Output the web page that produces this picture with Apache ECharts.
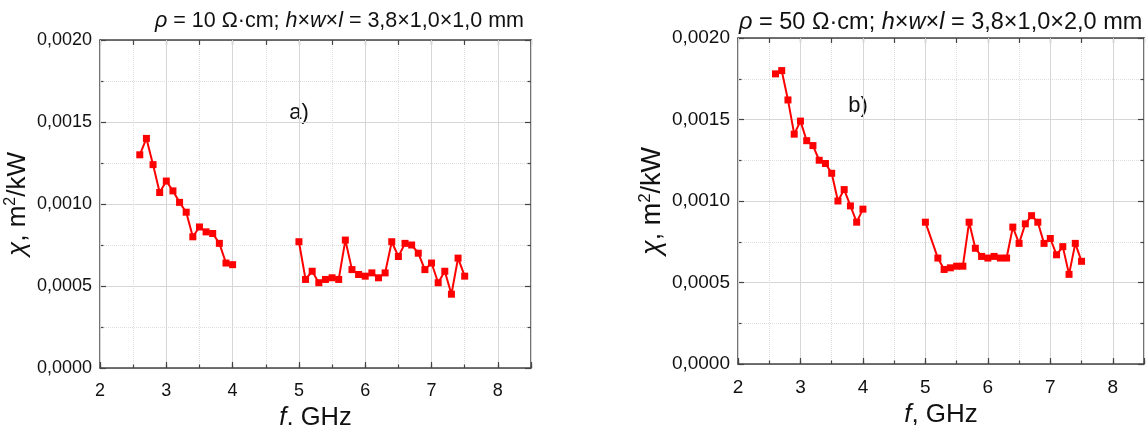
<!DOCTYPE html>
<html><head><meta charset="utf-8">
<script src="https://cdn.jsdelivr.net/npm/echarts@6/dist/echarts.min.js"></script>
<style>html,body{margin:0;padding:0;background:#fff}#c{width:1148px;height:425px}</style>
</head><body><div id="c"></div>
<script>
// ---- data (panel a) ----
const fA1 = [2.6,2.7,2.8,2.9,3.0,3.1,3.2,3.3,3.4,3.5,3.6,3.7,3.8,3.9,4.0];
const chiA1 = [0.00130,0.00140,0.00124,0.00107,0.00114,0.00108,0.00101,0.00095,0.00080,0.00086,0.00083,0.00082,0.00076,0.00064,0.00063];
const fA2 = [5.0,5.1,5.2,5.3,5.4,5.5,5.6,5.7,5.8,5.9,6.0,6.1,6.2,6.3,6.4,6.5,6.6,6.7,6.8,6.9,7.0,7.1,7.2,7.3,7.4,7.5];
const chiA2 = [0.00077,0.00054,0.00059,0.00052,0.00054,0.00055,0.00054,0.00078,0.00060,0.00057,0.00056,0.00058,0.00055,0.00058,0.00077,0.00068,0.00076,0.00075,0.00070,0.00060,0.00064,0.00052,0.00059,0.00045,0.00067,0.00056];
// ---- data (panel b) ----
const fB1 = [2.6,2.7,2.8,2.9,3.0,3.1,3.2,3.3,3.4,3.5,3.6,3.7,3.8,3.9,4.0];
const chiB1 = [0.00178,0.00180,0.00162,0.00141,0.00149,0.00137,0.00134,0.00125,0.00123,0.00117,0.00100,0.00107,0.00097,0.00087,0.00095];
const fB2 = [5.0,5.2,5.3,5.4,5.5,5.6,5.7,5.8,5.9,6.0,6.1,6.2,6.3,6.4,6.5,6.6,6.7,6.8,6.9,7.0,7.1,7.2,7.3,7.4,7.5];
const chiB2 = [0.00087,0.00065,0.00058,0.00059,0.00060,0.00060,0.00087,0.00071,0.00066,0.00065,0.00066,0.00065,0.00065,0.00084,0.00074,0.00086,0.00091,0.00087,0.00074,0.00077,0.00067,0.00072,0.00055,0.00074,0.00063];
// ---- axis ranges / labels ----
const xRange = [2, 8.5];
const yRange = [0, 0.002];
const titleA = '{i|ρ} = 10 Ω·cm; {i|h}×{i|w}×{i|l} = 3,8×1,0×1,0 mm';
const titleB = '{i|ρ} = 50 Ω·cm; {i|h}×{i|w}×{i|l} = 3,8×1,0×2,0 mm';
const xName = '{i|f}, GHz';
const yName = '{i|χ}, m{sup|2}/kW';
const panelTags = ['a)', 'b)'];

const FONT = '"Liberation Sans", Arial, sans-serif';
const AX = '#444';
const TXT = '#111';
const zip = (a, b) => a.map((v, i) => [v, b[i]]);

function xAxes(g, fs, nfs) {
  return [
    { type:'value', gridIndex:g, position:'bottom', min:xRange[0], max:xRange[1], interval:1,
      axisLine:{show:true,onZero:false,lineStyle:{color:AX,width:1.5}},
      axisTick:{show:true,inside:true,length:6,lineStyle:{color:AX,width:1.2}},
      axisLabel:{fontSize:fs,color:TXT,fontFamily:FONT,margin:14,
        formatter:v => Number.isInteger(v) ? String(v) : ''},
      splitLine:{show:true,lineStyle:{color:'#d6d6d6',width:1}},
      name:xName, nameLocation:'middle', nameGap:33,
      nameTextStyle:{fontSize:nfs,color:TXT,fontFamily:FONT,
        rich:{i:{fontStyle:'italic',fontSize:nfs,fontFamily:FONT,color:TXT}}},
      z:3 },
    { type:'value', gridIndex:g, position:'bottom', min:xRange[0], max:xRange[1], interval:0.5,
      axisLine:{show:false,onZero:false},
      axisTick:{show:true,inside:true,length:3.5,lineStyle:{color:AX,width:1.2}},
      axisLabel:{show:false},
      splitLine:{show:true,lineStyle:{color:'#dedede',width:1,type:'dotted'}} },
    { type:'value', gridIndex:g, position:'top', min:xRange[0], max:xRange[1], interval:0.5,
      axisLine:{show:true,onZero:false,lineStyle:{color:AX,width:1.5}},
      axisTick:{show:true,inside:true,length:5,lineStyle:{color:AX,width:1.2}},
      axisLabel:{show:false}, splitLine:{show:false} }
  ];
}
function yAxes(g, fs, nfs, gap) {
  return [
    { type:'value', gridIndex:g, position:'left', min:yRange[0], max:yRange[1], interval:0.0005,
      axisLine:{show:true,onZero:false,lineStyle:{color:AX,width:1.5}},
      axisTick:{show:true,inside:true,length:6,lineStyle:{color:AX,width:1.2}},
      minorTick:{show:true,splitNumber:2,length:3.5,lineStyle:{color:AX,width:1.2}},
      axisLabel:{fontSize:fs,color:TXT,fontFamily:FONT,margin:8,
        formatter:v => v.toFixed(4).replace('.', ',')},
      splitLine:{show:true,lineStyle:{color:'#d6d6d6',width:1}},
      minorSplitLine:{show:true,lineStyle:{color:'#dedede',width:1,type:'dotted'}},
      name:yName, nameLocation:'middle', nameRotate:90, nameGap:gap,
      nameTextStyle:{fontSize:nfs,color:TXT,fontFamily:FONT,lineHeight:nfs+4,
        rich:{i:{fontStyle:'italic',fontSize:nfs,fontFamily:FONT,color:TXT,lineHeight:nfs+4},
              sup:{fontSize:Math.round(nfs*0.62),fontFamily:FONT,color:TXT,verticalAlign:'top',lineHeight:nfs*0.62}}} },
    { type:'value', gridIndex:g, position:'right', min:yRange[0], max:yRange[1], interval:0.0005,
      axisLine:{show:true,onZero:false,lineStyle:{color:AX,width:1.5}},
      axisTick:{show:true,inside:true,length:6,lineStyle:{color:AX,width:1.2}},
      minorTick:{show:true,splitNumber:2,length:3.5,lineStyle:{color:AX,width:1.2}},
      axisLabel:{show:false}, splitLine:{show:false} }
  ];
}
function line(data, xi, yi) {
  return { type:'line', xAxisIndex:xi, yAxisIndex:yi, data:data,
    symbol:'rect', symbolSize:7, showSymbol:true,
    lineStyle:{color:'#ff0000',width:2}, itemStyle:{color:'#ff0000'} };
}

const chart = echarts.init(document.getElementById('c'), null, {renderer:'canvas'});
chart.setOption({
  animation:false,
  backgroundColor:'#fff',
  title:[
    { text:titleA, left:155, top:9, padding:0,
      textStyle:{fontSize:21.5,fontWeight:'normal',color:TXT,fontFamily:FONT,lineHeight:24,
        rich:{i:{fontStyle:'italic',fontSize:21.5,fontFamily:FONT,color:TXT,lineHeight:24}}} },
    { text:titleB, left:739, top:10, padding:0,
      textStyle:{fontSize:23.5,fontWeight:'normal',color:TXT,fontFamily:FONT,lineHeight:25,
        rich:{i:{fontStyle:'italic',fontSize:23.5,fontFamily:FONT,color:TXT,lineHeight:25}}} }
  ],
  grid:[
    { left:100, top:40, width:431, height:328, containLabel:false, outerBoundsMode:'none' },
    { left:738, top:38, width:406, height:326, containLabel:false, outerBoundsMode:'none' }
  ],
  xAxis:[...xAxes(0, 18, 25.5), ...xAxes(1, 19, 26)],
  yAxis:[...yAxes(0, 18, 26, 60), ...yAxes(1, 19, 27, 60)],
  graphic:[
    { type:'text', x:299, y:113, style:{text:panelTags[0], fontSize:22, fontFamily:FONT, fill:TXT, align:'center', verticalAlign:'middle'} },
    { type:'text', x:858, y:106, style:{text:panelTags[1], fontSize:22, fontFamily:FONT, fill:TXT, align:'center', verticalAlign:'middle'} }
  ],
  series:[
    line(zip(fA1, chiA1), 0, 0),
    line(zip(fA2, chiA2), 0, 0),
    line(zip(fB1, chiB1), 3, 2),
    line(zip(fB2, chiB2), 3, 2)
  ]
});
</script>
</body></html>
